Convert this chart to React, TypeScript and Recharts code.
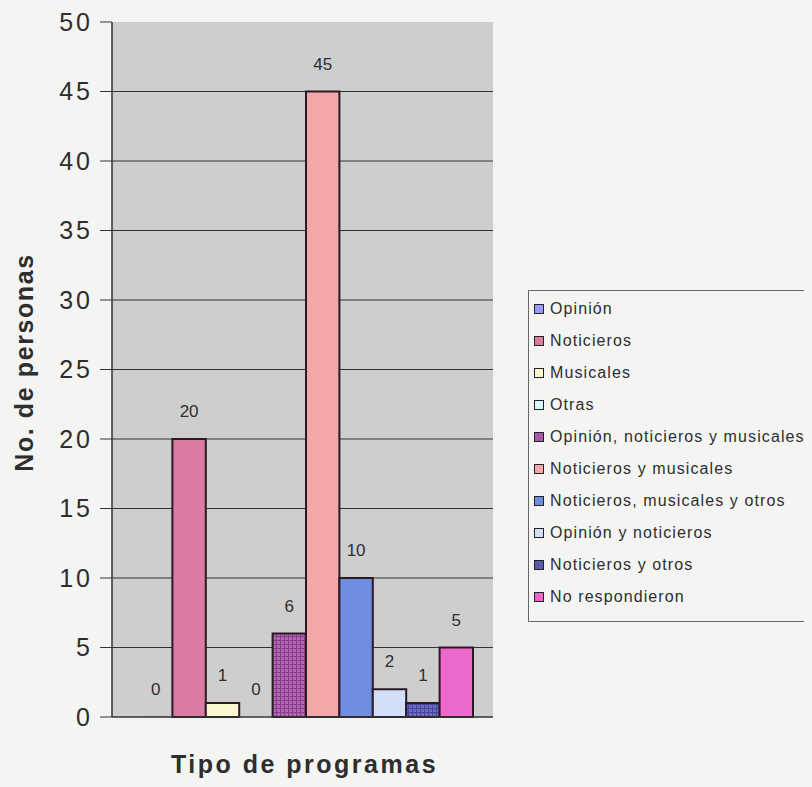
import React from "react";
import { BarChart, Bar, XAxis, YAxis, CartesianGrid, Legend, LabelList } from "recharts";

// ---------------------- DATA ----------------------
const categories = ["Tipo de programas"];
const seriesNames = [
  "Opinión",
  "Noticieros",
  "Musicales",
  "Otras",
  "Opinión, noticieros y musicales",
  "Noticieros y musicales",
  "Noticieros, musicales y otros",
  "Opinión y noticieros",
  "Noticieros y otros",
  "No respondieron",
];
const seriesValues = [0, 20, 1, 0, 6, 45, 10, 2, 1, 5];
const yTicks = [0, 5, 10, 15, 20, 25, 30, 35, 40, 45, 50];

const fills = [
  "#9999ff",
  "#d97ba3",
  "#fbf8d0",
  "#d6fbfb",
  "url(#checkPurple)",
  "#f4a7a8",
  "#6f8ee0",
  "#d3def8",
  "url(#checkBlue)",
  "#ec68cc",
];
const legendSwatch = [
  "#9999ff", "#d97ba3", "#fbf8d0", "#d6fbfb", "#a858a8",
  "#f4a7a8", "#6f8ee0", "#d3def8", "#5a5ab0", "#ec68cc",
];

const chartData = categories.map((c) => {
  const row: Record<string, string | number> = { name: c };
  seriesNames.forEach((s, i) => (row[s] = seriesValues[i]));
  return row;
});

const font = "'Liberation Sans', Arial, sans-serif";
const ink = "#2e2e2e";
const paper = "#f4f4f2";

if (typeof document !== "undefined") {
  document.body.style.background = paper;
  document.documentElement.style.background = paper;
}

const YTitle = (props: any) => {
  const vb = props.viewBox;
  const cy = vb.y + vb.height / 2 - 7;
  return (
    <text
      x={33}
      y={cy}
      transform={`rotate(-90, 33, ${cy})`}
      textAnchor="middle"
      fontSize={25}
      fontWeight="bold"
      letterSpacing={1.6}
      fill={ink}
      fontFamily={font}
    >
      No. de personas
    </text>
  );
};

const LegendBox = () => (
  <div
    style={{
      width: 300,
      height: 332,
      border: "1px solid #666",
      borderRight: "none",
      background: paper,
      paddingTop: 2,
      boxSizing: "border-box",
      fontFamily: font,
      fontSize: 16,
      letterSpacing: 1.1,
      color: ink,
    }}
  >
    {seriesNames.map((s, i) => (
      <div key={s} style={{ height: 32, display: "flex", alignItems: "center", paddingLeft: 5 }}>
        <span
          style={{
            display: "inline-block",
            width: 8,
            height: 8,
            border: "1.5px solid #222",
            background: legendSwatch[i],
            marginRight: 6,
          }}
        />
        {s}
      </div>
    ))}
  </div>
);

export default function App() {
  return (
    <div style={{ margin: -8, width: 812, height: 787, overflow: "hidden", background: paper, position: "relative" }}>
      <BarChart
        width={812}
        height={787}
        data={chartData}
        margin={{ top: 22, right: 319, bottom: 0, left: 0 }}
        barGap={0}
      >
        <defs>
          <pattern id="checkPurple" width="4" height="4" patternUnits="userSpaceOnUse">
            <rect width="4" height="4" fill="#b066b0" />
            <path d="M0 0.5H4M0.5 0V4" stroke="#8a3e8a" strokeWidth="1" />
          </pattern>
          <pattern id="checkBlue" width="4" height="4" patternUnits="userSpaceOnUse">
            <rect width="4" height="4" fill="#6a6ac0" />
            <path d="M0 0.5H4M0.5 0V4" stroke="#44449a" strokeWidth="1" />
          </pattern>
        </defs>
        <CartesianGrid
          vertical={false}
          fill="#cecece"
          stroke="#333"
          horizontalValues={yTicks.filter((t) => t > 0 && t < 50)}
        />
        <XAxis
          dataKey="name"
          tick={false}
          tickLine={false}
          height={70}
          padding={{ left: 7, right: 0 }}
          axisLine={{ stroke: "#333", strokeWidth: 1.5 }}
          label={{
            value: "Tipo de programas",
            position: "insideBottom",
            offset: 14,
            dx: 2,
            fontSize: 25,
            fontWeight: "bold",
            letterSpacing: 2.5,
            fill: ink,
            fontFamily: font,
          }}
        />
        <YAxis
          width={112}
          domain={[0, 50]}
          ticks={yTicks}
          interval={0}
          tickSize={12}
          tickMargin={7}
          axisLine={{ stroke: "#333", strokeWidth: 1.5 }}
          tickLine={{ stroke: "#333" }}
          tick={{ fontSize: 25, fill: ink, fontFamily: font, letterSpacing: 3 }}
          label={<YTitle />}
        />
        <Legend
          layout="horizontal"
          verticalAlign="middle"
          align="center"
          content={<LegendBox />}
          wrapperStyle={{ position: "absolute", left: 528, top: 290, width: 300, height: 332 }}
        />
        {seriesNames.map((s, i) => (
          <Bar
            key={s}
            dataKey={s}
            fill={fills[i]}
            stroke={seriesValues[i] === 0 ? "none" : "#2a1a24"}
            strokeWidth={2}
            barSize={33.4}
            minPointSize={0.5}
            isAnimationActive={false}
          >
            <LabelList dataKey={s} position="top" offset={22} fontSize={17} fill={ink} fontFamily={font} />
          </Bar>
        ))}
      </BarChart>
    </div>
  );
}
